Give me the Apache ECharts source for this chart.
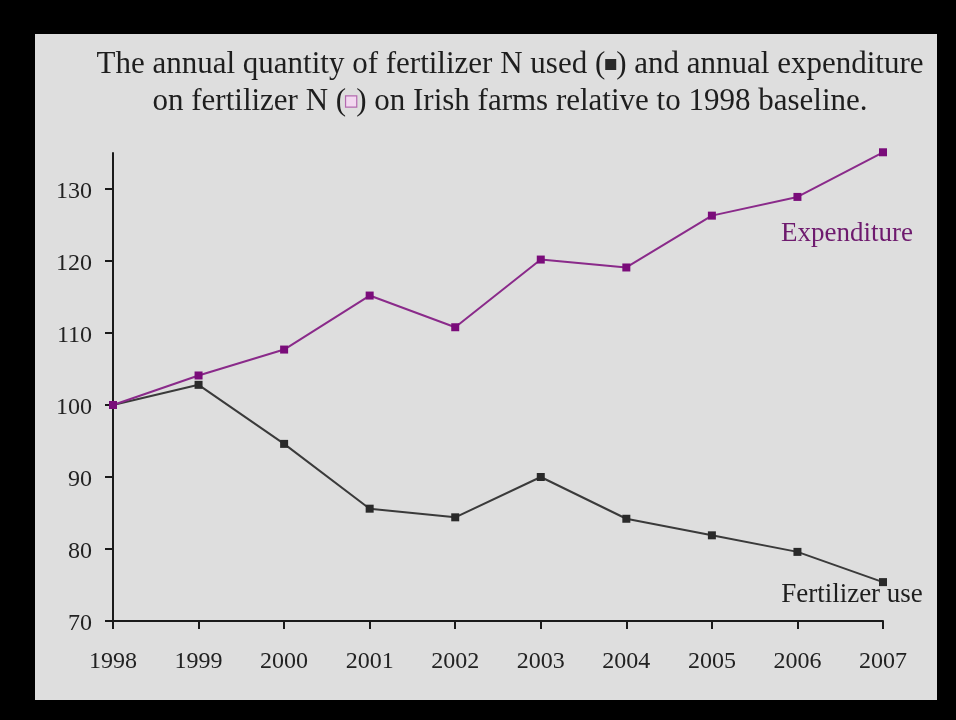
<!DOCTYPE html>
<html><head><meta charset="utf-8">
<script src="https://cdn.jsdelivr.net/npm/echarts@6/dist/echarts.min.js"></script>
<style>
html,body{margin:0;padding:0;background:#000;}
#panel{position:absolute;left:35px;top:34px;width:902px;height:666px;background:#dedede;}
#chart{position:absolute;left:0;top:0;width:956px;height:720px;}
</style></head>
<body><div id="panel"></div><div id="chart"></div>
<script>
const years = ['1998','1999','2000','2001','2002','2003','2004','2005','2006','2007'];
const expenditure = [100, 104.1, 107.7, 115.2, 110.8, 120.2, 119.1, 126.3, 128.9, 135.1];
const fertilizerUse = [100, 102.8, 94.6, 85.6, 84.4, 90.0, 84.2, 81.9, 79.6, 75.4];
const yTicks = [70, 80, 90, 100, 110, 120, 130];
const titleLine1 = 'The annual quantity of fertilizer N used ({b| }) and annual expenditure';
const titleLine2 = 'on fertilizer N ({p| }) on Irish farms relative to 1998 baseline.';

const serif = '"Liberation Serif", "DejaVu Serif", serif';
const chart = echarts.init(document.getElementById('chart'));

function withEndLabel(arr, label) {
  return arr.map((v, i) => i === arr.length - 1 ? { value: v, label: label } : v);
}

chart.setOption({
  backgroundColor: 'transparent',
  animation: false,
  title: {
    text: titleLine1 + '\n' + titleLine2,
    left: 505, top: 41, textAlign: 'center',
    textStyle: {
      fontFamily: serif, fontSize: 31, fontWeight: 'normal', color: '#1e1e1e', lineHeight: 37,
      rich: {
        b: { width: 11, height: 11, backgroundColor: '#2a2a2a', fontSize: 10 },
        p: { width: 10, height: 10, backgroundColor: '#f2d8f0', borderColor: '#b46ab0', borderWidth: 1.2, fontSize: 10 }
      }
    }
  },
  grid: { left: 113, right: 73, top: 153, bottom: 99, containLabel: false },
  xAxis: {
    type: 'category', data: years, boundaryGap: false,
    axisLine: { lineStyle: { color: '#1a1a1a', width: 2 } },
    axisTick: { length: 8, lineStyle: { color: '#1a1a1a', width: 2 } },
    axisLabel: { fontFamily: serif, fontSize: 24, color: '#222', margin: 29 },
    splitLine: { show: false }
  },
  yAxis: {
    type: 'value', min: 70, max: 135, interval: 10,
    axisLine: { show: true, lineStyle: { color: '#1a1a1a', width: 2 } },
    axisTick: { show: true, length: 8, customValues: yTicks, lineStyle: { color: '#1a1a1a', width: 2 } },
    axisLabel: {
      fontFamily: serif, fontSize: 24, color: '#222', margin: 21, customValues: yTicks,
      formatter: '{a|{value}}',
      rich: { a: { fontFamily: serif, fontSize: 24, color: '#222', padding: [6, 0, 0, 0] } }
    },
    splitLine: { show: false }
  },
  series: [
    {
      name: 'Expenditure', type: 'line', clip: false,
      data: withEndLabel(expenditure, {
        show: true, formatter: 'Expenditure', position: 'inside', offset: [-36, 82],
        fontFamily: serif, fontSize: 27, color: '#6e1a6e'
      }),
      symbol: 'rect', symbolSize: 8,
      itemStyle: { color: '#7a0c7a' },
      lineStyle: { color: '#8a2a8a', width: 2 },
      label: { show: false }, z: 3
    },
    {
      name: 'Fertilizer use', type: 'line', clip: false,
      data: withEndLabel(fertilizerUse, {
        show: true, formatter: 'Fertilizer use', position: 'inside', offset: [-31, 13],
        fontFamily: serif, fontSize: 27, color: '#1e1e1e'
      }),
      symbol: 'rect', symbolSize: 8,
      itemStyle: { color: '#2a2a2a' },
      lineStyle: { color: '#3a3a3a', width: 2 },
      label: { show: false }, z: 2
    }
  ]
});
</script></body></html>
